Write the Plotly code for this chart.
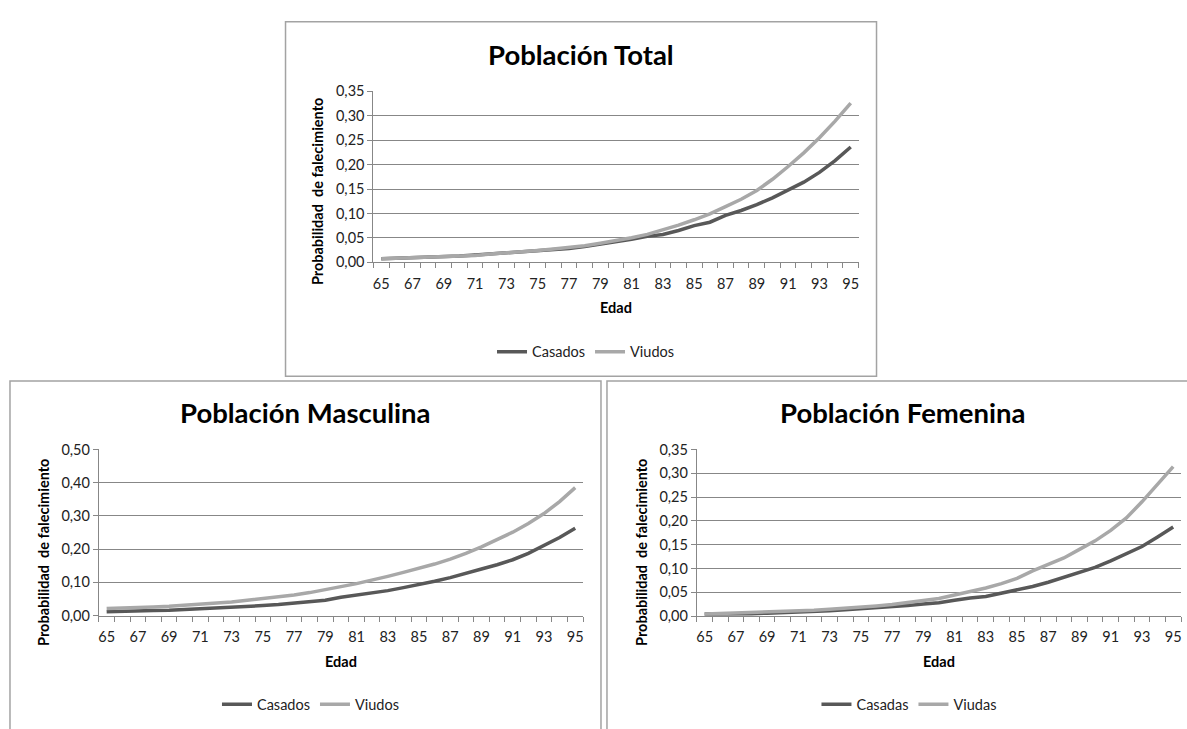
import plotly.graph_objects as go

W, H = 1187, 729

# Ages on the horizontal axis
edades = list(range(65, 96))

# Población Total
total_casados = [0.007, 0.008, 0.009, 0.011, 0.012, 0.013, 0.015, 0.017, 0.019, 0.021,
                 0.023, 0.025, 0.028, 0.032, 0.037, 0.041, 0.047, 0.053, 0.057, 0.065,
                 0.075, 0.082, 0.096, 0.106, 0.118, 0.132, 0.148, 0.164, 0.184, 0.208, 0.236]
total_viudos = [0.007, 0.008, 0.009, 0.010, 0.011, 0.013, 0.014, 0.017, 0.019, 0.022,
                0.024, 0.027, 0.030, 0.034, 0.039, 0.044, 0.050, 0.057, 0.066, 0.076,
                0.087, 0.099, 0.114, 0.129, 0.147, 0.170, 0.196, 0.224, 0.255, 0.289, 0.326]

# Población Masculina
masc_casados = [0.011, 0.013, 0.014, 0.015, 0.016, 0.018, 0.020, 0.022, 0.024, 0.027,
                0.030, 0.033, 0.037, 0.041, 0.046, 0.055, 0.062, 0.067, 0.075, 0.084,
                0.093, 0.103, 0.114, 0.128, 0.140, 0.153, 0.168, 0.187, 0.211, 0.235, 0.263]
masc_viudos = [0.021, 0.022, 0.024, 0.026, 0.028, 0.031, 0.034, 0.037, 0.041, 0.046,
               0.051, 0.056, 0.062, 0.069, 0.077, 0.087, 0.096, 0.106, 0.118, 0.130,
               0.142, 0.155, 0.170, 0.187, 0.207, 0.228, 0.251, 0.277, 0.307, 0.343, 0.385]

# Población Femenina
fem_casadas = [0.004, 0.004, 0.004, 0.005, 0.006, 0.007, 0.009, 0.010, 0.011, 0.013,
               0.015, 0.017, 0.019, 0.022, 0.025, 0.028, 0.033, 0.038, 0.041, 0.048,
               0.054, 0.062, 0.071, 0.081, 0.091, 0.102, 0.116, 0.130, 0.146, 0.166, 0.187]
fem_viudas = [0.004, 0.005, 0.007, 0.008, 0.009, 0.010, 0.011, 0.012, 0.014, 0.016,
              0.018, 0.021, 0.024, 0.028, 0.032, 0.037, 0.044, 0.051, 0.059, 0.068,
              0.079, 0.095, 0.108, 0.122, 0.140, 0.158, 0.180, 0.206, 0.240, 0.276, 0.314]

x_labels = [str(a) for a in range(65, 96, 2)]
y_ticks_035 = [0.00, 0.05, 0.10, 0.15, 0.20, 0.25, 0.30, 0.35]
y_ticks_050 = [0.00, 0.10, 0.20, 0.30, 0.40, 0.50]

titulos = ["Población Total", "Población Masculina", "Población Femenina"]
y_titulo = "Probabilidad\u00a0 de falecimiento"
x_titulo = "Edad"

OSCURO = "#585858"
CLARO = "#a8a8a8"
GRID = "#878787"
BORDE = "#a3a3a3"
TEXTO = "#222222"
FONT = "Lato"


def fx(px):
    return px / W


def fy(py):
    return 1 - py / H


# Panel geometry in pixels: box, plot area, text anchors
paneles = [
    dict(box=(285, 13, 877, 376), plot=(373, 84.3, 859, 259.3), title_y=47,
         ytitle=(317, 187), xtitle_y=306, legend_y=351,
         ticks=y_ticks_035, ymax=0.35,
         series=[("Casados", total_casados, OSCURO), ("Viudos", total_viudos, CLARO)]),
    dict(box=(9, 381, 601, 746), plot=(98, 451, 583, 621), title_y=413,
         ytitle=(42, 556), xtitle_y=668, legend_y=712,
         ticks=y_ticks_050, ymax=0.50,
         series=[("Casados", masc_casados, OSCURO), ("Viudos", masc_viudos, CLARO)]),
    dict(box=(607, 381, 1200, 746), plot=(697, 451, 1182, 621.5), title_y=413,
         ytitle=(641, 556), xtitle_y=668, legend_y=712,
         ticks=y_ticks_035, ymax=0.35,
         series=[("Casadas", fem_casadas, OSCURO), ("Viudas", fem_viudas, CLARO)]),
]

fig = go.Figure()
shapes = []
annotations = []
layout = {}

for i, p in enumerate(paneles):
    n = "" if i == 0 else str(i + 1)
    xa, ya = "x" + n, "y" + n
    leg = "legend" + n
    x0, y0, x1, y1 = p["plot"]

    for nombre, valores, color in p["series"]:
        fig.add_trace(go.Scatter(
            x=edades, y=valores, name=nombre, mode="lines",
            line=dict(color=color, width=3.5),
            xaxis=xa, yaxis=ya, legend=leg, hoverinfo="skip",
        ))

    layout["xaxis" + n] = dict(
        domain=[fx(x0), fx(x1)], anchor=ya, range=[64.5, 95.5],
        tickvals=list(range(65, 96, 2)), ticktext=x_labels, ticks="",
        showgrid=False, zeroline=False, showline=True, linecolor=GRID, linewidth=1,
        tickfont=dict(family=FONT, size=14.5, color=TEXTO), ticklabelstandoff=8,
        minor=dict(tickvals=[64.5 + k for k in range(32)], ticks="outside",
                   ticklen=5, tickcolor=GRID, tickwidth=1, showgrid=False),
        fixedrange=True,
    )
    layout["yaxis" + n] = dict(
        domain=[fy(y1), fy(y0)], anchor=xa, range=[0, p["ymax"]],
        tickvals=p["ticks"], tickformat=".2f", ticks="outside", ticklen=5,
        tickcolor=GRID, showgrid=True, gridcolor=GRID, gridwidth=1,
        zeroline=False, showline=True, linecolor=GRID, linewidth=1,
        tickfont=dict(family=FONT, size=14.5, color=TEXTO), fixedrange=True,
    )
    layout[leg] = dict(
        orientation="h", x=fx((x0 + x1) / 2 - 30), y=fy(p["legend_y"]),
        xanchor="center", yanchor="middle", bgcolor="rgba(0,0,0,0)",
        font=dict(family=FONT, size=14.5, color=TEXTO), itemwidth=30,
        tracegroupgap=0,
    )

    bx0, by0, bx1, by1 = p["box"]
    shapes.append(dict(type="rect", xref="paper", yref="paper",
                       x0=fx(bx0), x1=fx(bx1), y0=fy(by1), y1=fy(by0),
                       line=dict(color=BORDE, width=1.5), layer="below"))

    annotations.append(dict(text=titulos[i], xref="paper", yref="paper",
                            x=fx((bx0 + bx1) / 2), y=fy(p["title_y"]),
                            xanchor="center", yanchor="middle", showarrow=False,
                            font=dict(family=FONT, size=27.5, color="#000000", weight="bold")))
    annotations.append(dict(text=y_titulo, xref="paper", yref="paper",
                            x=fx(p["ytitle"][0]), y=fy(p["ytitle"][1]), textangle=-90,
                            xanchor="center", yanchor="middle", showarrow=False,
                            font=dict(family=FONT, size=14.5, color="#000000", weight="bold")))
    annotations.append(dict(text=x_titulo, xref="paper", yref="paper",
                            x=fx((x0 + x1) / 2), y=fy(p["xtitle_y"]),
                            xanchor="center", yanchor="middle", showarrow=False,
                            font=dict(family=FONT, size=14.5, color="#000000", weight="bold")))

fig.update_layout(
    width=W, height=H, autosize=False,
    margin=dict(l=0, r=0, t=0, b=0),
    paper_bgcolor="white", plot_bgcolor="white",
    separators=",.",
    shapes=shapes, annotations=annotations,
    **layout,
)

fig.write_html("out.html", config={"displayModeBar": False})
